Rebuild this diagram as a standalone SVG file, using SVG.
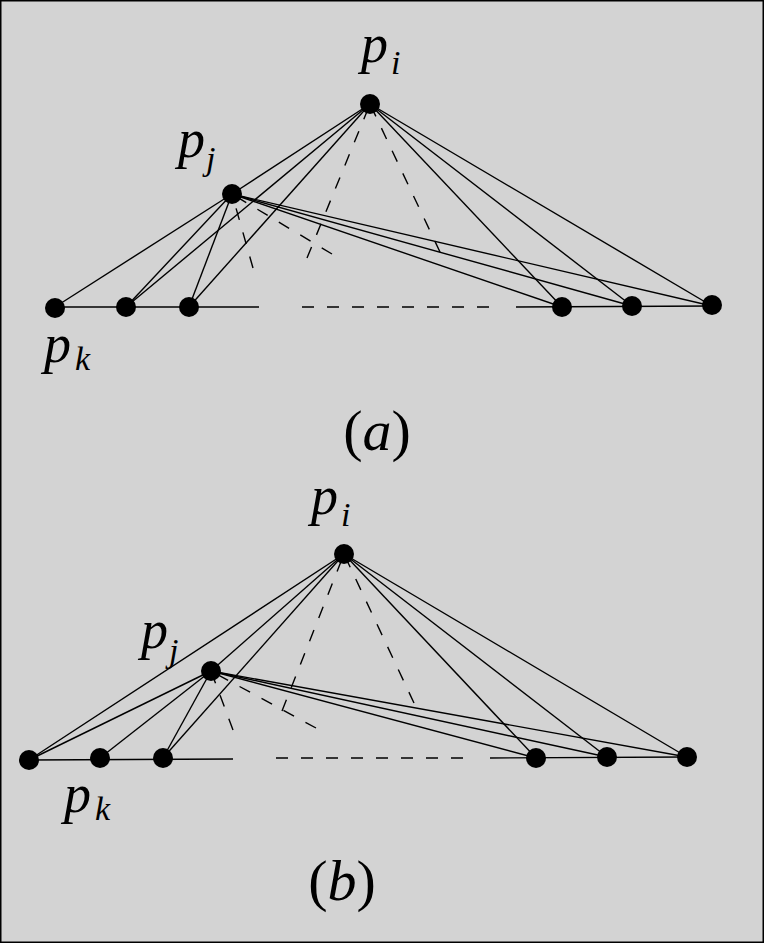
<svg xmlns="http://www.w3.org/2000/svg" width="764" height="943" viewBox="0 0 764 943">
<style>
.s{stroke:#000;stroke-width:1.4;fill:none}
.d{stroke:#000;stroke-width:1.4;fill:none;stroke-dasharray:12 13}
.n{fill:#000}
.t{font-family:"Liberation Serif","Times New Roman",serif;fill:#000}
.it{font-style:italic}
.p{font-size:54px}
.sub{font-size:34px}
</style>
<rect x="0.75" y="0.75" width="762.5" height="941.5" fill="#d3d3d3" stroke="#000" stroke-width="1.5"/>

<g id="connectors-a">
<line class="s" x1="55" y1="307" x2="259" y2="307"/>
<line class="d" x1="302" y1="307" x2="490" y2="307"/>
<line class="s" x1="516" y1="307" x2="712" y2="306"/>
<line class="s" x1="370" y1="104" x2="232" y2="194"/>
<line class="s" x1="370" y1="104" x2="126" y2="307"/>
<line class="s" x1="370" y1="104" x2="189" y2="307"/>
<line class="s" x1="370" y1="104" x2="562" y2="307"/>
<line class="s" x1="370" y1="104" x2="632" y2="306"/>
<line class="s" x1="370" y1="104" x2="712" y2="306"/>
<line class="s" x1="232" y1="194" x2="55" y2="307"/>
<line class="s" x1="232" y1="194" x2="126" y2="307"/>
<line class="s" x1="232" y1="194" x2="189" y2="307"/>
<line class="s" x1="232" y1="194" x2="562" y2="307"/>
<line class="s" x1="232" y1="194" x2="632" y2="306"/>
<line class="s" x1="232" y1="194" x2="712" y2="306"/>
<line class="d" x1="307" y1="258" x2="370" y2="104"/>
<line class="d" x1="440" y1="252" x2="370" y2="104"/>
<line class="d" x1="253" y1="268" x2="232" y2="194"/>
<line class="d" x1="332" y1="254" x2="232" y2="194"/>
</g>

<g id="connectors-b">
<line class="s" x1="29" y1="760" x2="233" y2="759"/>
<line class="d" x1="276" y1="758" x2="463" y2="758"/>
<line class="s" x1="490" y1="758" x2="687" y2="757"/>
<line class="s" x1="344" y1="554" x2="211" y2="671"/>
<line class="s" x1="344" y1="554" x2="29" y2="760"/>
<line class="s" x1="344" y1="554" x2="163" y2="758"/>
<line class="s" x1="344" y1="554" x2="536" y2="758"/>
<line class="s" x1="344" y1="554" x2="607" y2="757"/>
<line class="s" x1="344" y1="554" x2="687" y2="757"/>
<line class="s" x1="211" y1="671" x2="29" y2="760"/>
<line class="s" x1="211" y1="671" x2="100" y2="758"/>
<line class="s" x1="211" y1="671" x2="163" y2="758"/>
<line class="s" x1="211" y1="671" x2="536" y2="758"/>
<line class="s" x1="211" y1="671" x2="607" y2="757"/>
<line class="s" x1="211" y1="671" x2="687" y2="757"/>
<line class="d" x1="282" y1="711" x2="344" y2="554"/>
<line class="d" x1="414" y1="703" x2="344" y2="554"/>
<line class="d" x1="233" y1="730" x2="211" y2="671"/>
<line class="d" x1="316" y1="728" x2="211" y2="671"/>
</g>

<g id="a-pi"><circle class="n" cx="370" cy="104" r="10"/><text class="t it p" x="361" y="62">p</text><text class="t it sub" x="391" y="74">i</text></g>
<g id="a-pj"><circle class="n" cx="232" cy="194" r="10"/><text class="t it p" x="178" y="157">p</text><text class="t it sub" x="206" y="170">j</text></g>
<g id="a-pk"><circle class="n" cx="55" cy="308" r="10"/><text class="t it p" x="44" y="362">p</text><text class="t it sub" x="75" y="370">k</text></g>
<g id="a-n2"><circle class="n" cx="126" cy="307" r="10"/></g>
<g id="a-n3"><circle class="n" cx="189" cy="307" r="10"/></g>
<g id="a-n4"><circle class="n" cx="562" cy="307" r="10"/></g>
<g id="a-n5"><circle class="n" cx="632" cy="306" r="10"/></g>
<g id="a-n6"><circle class="n" cx="712" cy="305" r="10"/></g>
<g id="label-a"><text class="t" x="377" y="450" font-size="58" text-anchor="middle">(<tspan class="it">a</tspan>)</text></g>

<g id="b-pi"><circle class="n" cx="344" cy="554" r="10"/><text class="t it p" x="311" y="514">p</text><text class="t it sub" x="341" y="526">i</text></g>
<g id="b-pj"><circle class="n" cx="211" cy="671" r="10"/><text class="t it p" x="141" y="648">p</text><text class="t it sub" x="169" y="662">j</text></g>
<g id="b-pk"><circle class="n" cx="29" cy="760" r="10"/><text class="t it p" x="64" y="812">p</text><text class="t it sub" x="95" y="820">k</text></g>
<g id="b-n2"><circle class="n" cx="100" cy="758" r="10"/></g>
<g id="b-n3"><circle class="n" cx="163" cy="758" r="10"/></g>
<g id="b-n4"><circle class="n" cx="536" cy="758" r="10"/></g>
<g id="b-n5"><circle class="n" cx="607" cy="757" r="10"/></g>
<g id="b-n6"><circle class="n" cx="687" cy="757" r="10"/></g>
<g id="label-b"><text class="t" x="342" y="900" font-size="58" text-anchor="middle">(<tspan class="it">b</tspan>)</text></g>
</svg>
